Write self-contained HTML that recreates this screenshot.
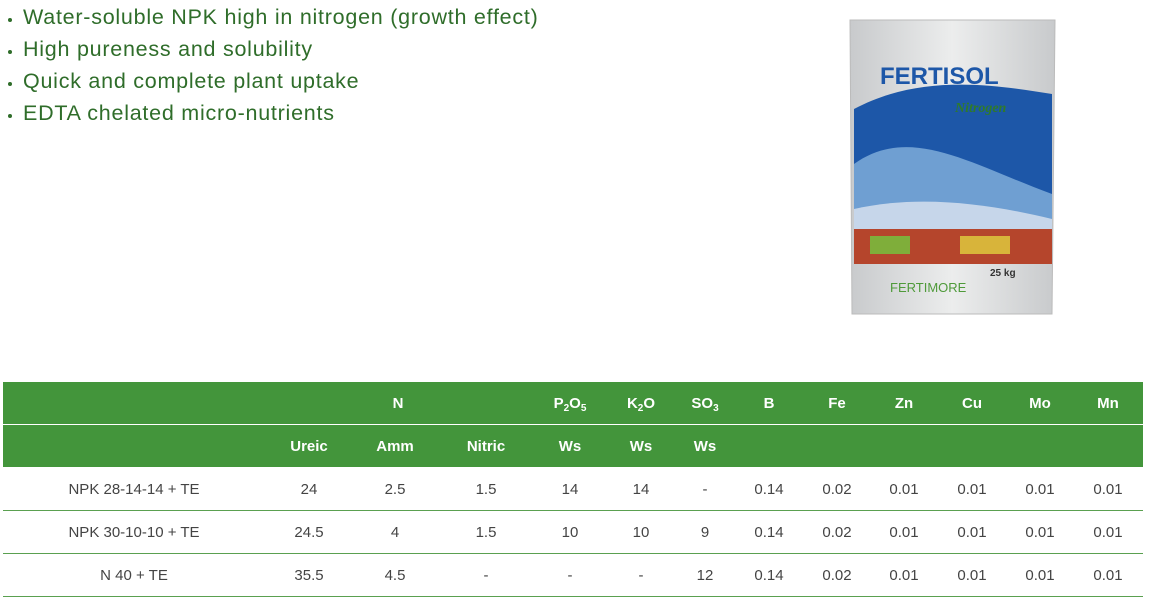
<!DOCTYPE html>
<html><head><meta charset="utf-8"><style>
body{margin:0;width:1151px;height:599px;background:#fff;position:relative;overflow:hidden;font-family:"Liberation Sans",sans-serif}
.b{position:absolute;left:23px;font-size:21.5px;letter-spacing:0.75px;color:#2f6d2a;white-space:nowrap}
.b:before{content:"";position:absolute;left:-15px;top:13px;width:4px;height:4px;border-radius:2px;background:#2f6d2a}
.hdr{position:absolute;left:3px;width:1140px;background:#43953b}
.c{position:absolute;transform:translateX(-50%);white-space:nowrap;font-size:15px}
.h{color:#fff;font-weight:bold}
.d{color:#444}
.line{position:absolute;left:3px;width:1140px;height:1px;background:#5aa050}
sub{font-size:10px;vertical-align:-3px}
</style></head><body>
<div class="b" style="top:5px">Water-soluble NPK high in nitrogen (growth effect)</div>
<div class="b" style="top:37px">High pureness and solubility</div>
<div class="b" style="top:69px">Quick and complete plant uptake</div>
<div class="b" style="top:101px">EDTA chelated micro-nutrients</div>

<svg style="position:absolute;left:840px;top:14px" width="230" height="320">
<defs><linearGradient id="g" x1="0" x2="1"><stop offset="0" stop-color="#c8cacc"/><stop offset=".5" stop-color="#eceded"/><stop offset="1" stop-color="#c8cacc"/></linearGradient></defs>
<path d="M10 6 H215 L212 300 H12 Z" fill="url(#g)" stroke="#bbb"/>
<path d="M14 95 C80 60 150 70 212 80 V190 C150 200 80 170 14 210 Z" fill="#1d57a8"/>
<path d="M14 150 C70 110 130 150 212 180 V225 H14 Z" fill="#6f9fd2"/>
<path d="M14 195 C80 180 150 190 212 205 V245 H14 Z" fill="#c6d6ea"/>
<rect x="14" y="215" width="198" height="35" fill="#b5452c"/>
<rect x="30" y="222" width="40" height="18" fill="#7fae3a"/><rect x="120" y="222" width="50" height="18" fill="#d8b43a"/>
<text x="40" y="70" font-size="24" font-weight="bold" fill="#1d57a8" font-family="Liberation Sans">FERTISOL</text>
<text x="115" y="98" font-size="14" font-style="italic" font-weight="bold" fill="#2f7a2a" font-family="Liberation Serif">Nitrogen</text>
<text x="150" y="262" font-size="10" font-weight="bold" fill="#333">25 kg</text>
<text x="50" y="278" font-size="13" fill="#4f9a3a">FERTIMORE</text>
</svg>

<div class="hdr" style="top:382px;height:42px"></div>
<div class="hdr" style="top:425px;height:42px"></div>
<div class="c h" style="left:398px;top:395px">N</div>
<div class="c h" style="left:570px;top:395px">P<sub>2</sub>O<sub>5</sub></div>
<div class="c h" style="left:641px;top:395px">K<sub>2</sub>O</div>
<div class="c h" style="left:705px;top:395px">SO<sub>3</sub></div>
<div class="c h" style="left:769px;top:395px">B</div>
<div class="c h" style="left:837px;top:395px">Fe</div>
<div class="c h" style="left:904px;top:395px">Zn</div>
<div class="c h" style="left:972px;top:395px">Cu</div>
<div class="c h" style="left:1040px;top:395px">Mo</div>
<div class="c h" style="left:1108px;top:395px">Mn</div>
<div class="c h" style="left:309px;top:438px">Ureic</div>
<div class="c h" style="left:395px;top:438px">Amm</div>
<div class="c h" style="left:486px;top:438px">Nitric</div>
<div class="c h" style="left:570px;top:438px">Ws</div>
<div class="c h" style="left:641px;top:438px">Ws</div>
<div class="c h" style="left:705px;top:438px">Ws</div>

<div class="c d" style="left:134px;top:481px">NPK 28-14-14 + TE</div>
<div class="c d" style="left:309px;top:481px">24</div><div class="c d" style="left:395px;top:481px">2.5</div><div class="c d" style="left:486px;top:481px">1.5</div><div class="c d" style="left:570px;top:481px">14</div><div class="c d" style="left:641px;top:481px">14</div><div class="c d" style="left:705px;top:481px">-</div><div class="c d" style="left:769px;top:481px">0.14</div><div class="c d" style="left:837px;top:481px">0.02</div><div class="c d" style="left:904px;top:481px">0.01</div><div class="c d" style="left:972px;top:481px">0.01</div><div class="c d" style="left:1040px;top:481px">0.01</div><div class="c d" style="left:1108px;top:481px">0.01</div>
<div class="line" style="top:510px"></div>
<div class="c d" style="left:134px;top:524px">NPK 30-10-10 + TE</div>
<div class="c d" style="left:309px;top:524px">24.5</div><div class="c d" style="left:395px;top:524px">4</div><div class="c d" style="left:486px;top:524px">1.5</div><div class="c d" style="left:570px;top:524px">10</div><div class="c d" style="left:641px;top:524px">10</div><div class="c d" style="left:705px;top:524px">9</div><div class="c d" style="left:769px;top:524px">0.14</div><div class="c d" style="left:837px;top:524px">0.02</div><div class="c d" style="left:904px;top:524px">0.01</div><div class="c d" style="left:972px;top:524px">0.01</div><div class="c d" style="left:1040px;top:524px">0.01</div><div class="c d" style="left:1108px;top:524px">0.01</div>
<div class="line" style="top:553px"></div>
<div class="c d" style="left:134px;top:567px">N 40 + TE</div>
<div class="c d" style="left:309px;top:567px">35.5</div><div class="c d" style="left:395px;top:567px">4.5</div><div class="c d" style="left:486px;top:567px">-</div><div class="c d" style="left:570px;top:567px">-</div><div class="c d" style="left:641px;top:567px">-</div><div class="c d" style="left:705px;top:567px">12</div><div class="c d" style="left:769px;top:567px">0.14</div><div class="c d" style="left:837px;top:567px">0.02</div><div class="c d" style="left:904px;top:567px">0.01</div><div class="c d" style="left:972px;top:567px">0.01</div><div class="c d" style="left:1040px;top:567px">0.01</div><div class="c d" style="left:1108px;top:567px">0.01</div>
<div class="line" style="top:596px"></div>
</body></html>
